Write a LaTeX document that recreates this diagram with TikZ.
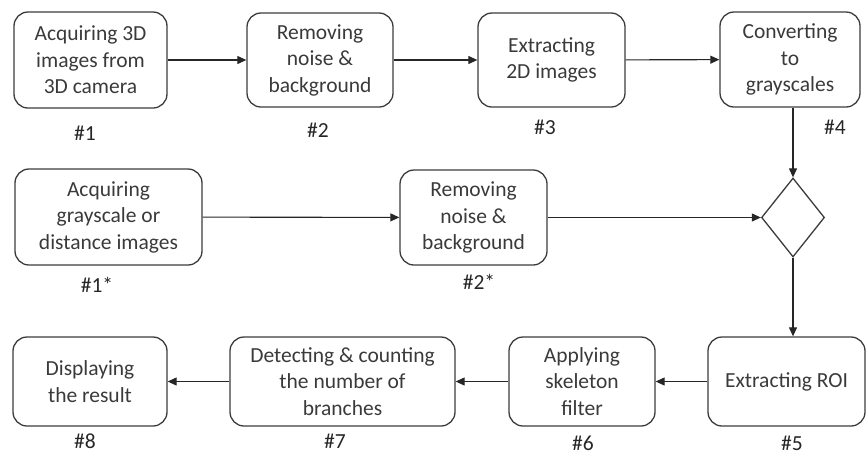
\documentclass[tikz,border=0pt]{standalone}
\usepackage{fontspec}
\setmainfont{Carlito}
\usetikzlibrary{shapes.geometric,arrows.meta}
\definecolor{boxline}{HTML}{3C3C3C}
\definecolor{txt}{HTML}{3A3A3A}
\tikzset{
  stepbox/.style={draw=boxline, line width=1.3pt, rounded corners=14pt, align=center,
    inner sep=0pt, text=txt, font=\fontsize{21.5}{26.5}\selectfont},
  tag/.style={text=black!85, font=\fontsize{21.5}{24}\selectfont, inner sep=0pt},
  flow/.style={draw=black!85, line width=1.1pt, -{Triangle[length=9pt,width=8pt]}},
}
\begin{document}
\begin{tikzpicture}[x=1pt,y=-1pt]
\useasboundingbox (0,0) rectangle (867,456);
% upper row
\node[stepbox, minimum width=153pt, minimum height=96pt] (b1) at (90.5,60) {Acquiring 3D\\images from\\3D camera};
\node[stepbox, minimum width=146pt, minimum height=94pt] (b2) at (320,60) {Removing\\noise \&\\background};
\node[stepbox, minimum width=147pt, minimum height=94pt] (b3) at (551.5,60) {Extracting\\2D images};
\node[stepbox, minimum width=140pt, minimum height=95pt] (b4) at (790,59.5) {Converting\\to\\grayscales};
% merge point
\node[diamond, draw=boxline, line width=1.3pt, minimum width=63pt, minimum height=79pt, inner sep=0pt] (dia) at (793,217.5) {};
% alternative input row
\node[stepbox, minimum width=187pt, minimum height=96pt] (a1) at (108.5,217) {Acquiring\\grayscale or\\distance images};
\node[stepbox, minimum width=147pt, minimum height=95pt] (a2) at (473.5,217.5) {Removing\\noise \&\\background};
% lower row
\node[stepbox, minimum width=157pt, minimum height=89pt] (b5) at (786.5,381.5) {Extracting ROI};
\node[stepbox, minimum width=146pt, minimum height=89pt] (b6) at (582,381.5) {Applying\\skeleton\\filter};
\node[stepbox, minimum width=225pt, minimum height=89pt] (b7) at (342.5,381.5) {Detecting \& counting\\the number of\\branches};
\node[stepbox, minimum width=154pt, minimum height=89pt] (b8) at (90,381.5) {Displaying\\the result};
% step numbers
\node[tag] (n1) at (85,133) {\#1};
\node[tag] (n2) at (318,130) {\#2};
\node[tag] (n3) at (545,127) {\#3};
\node[tag] (n4) at (835,127) {\#4};
\node[tag] (n1s) at (97,285) {\#1*};
\node[tag] (n2s) at (479,282) {\#2*};
\node[tag] (n5) at (792,443) {\#5};
\node[tag] (n6) at (583,443) {\#6};
\node[tag] (n7) at (335,441) {\#7};
\node[tag] (n8) at (85,441) {\#8};
% connectors
\draw[flow] (b1) -- (b2);
\draw[flow] (b2) -- (b3);
\draw[flow] (b3) -- (b4);
\draw[flow] (dia.north |- b4.south) -- (dia.north);
\draw[flow] (a1) -- (a2);
\draw[flow] (a2) -- (dia);
\draw[flow] (dia.south) -- (dia.south |- b5.north);
\draw[flow] (b5) -- (b6);
\draw[flow] (b6) -- (b7);
\draw[flow] (b7) -- (b8);
\end{tikzpicture}
\end{document}
